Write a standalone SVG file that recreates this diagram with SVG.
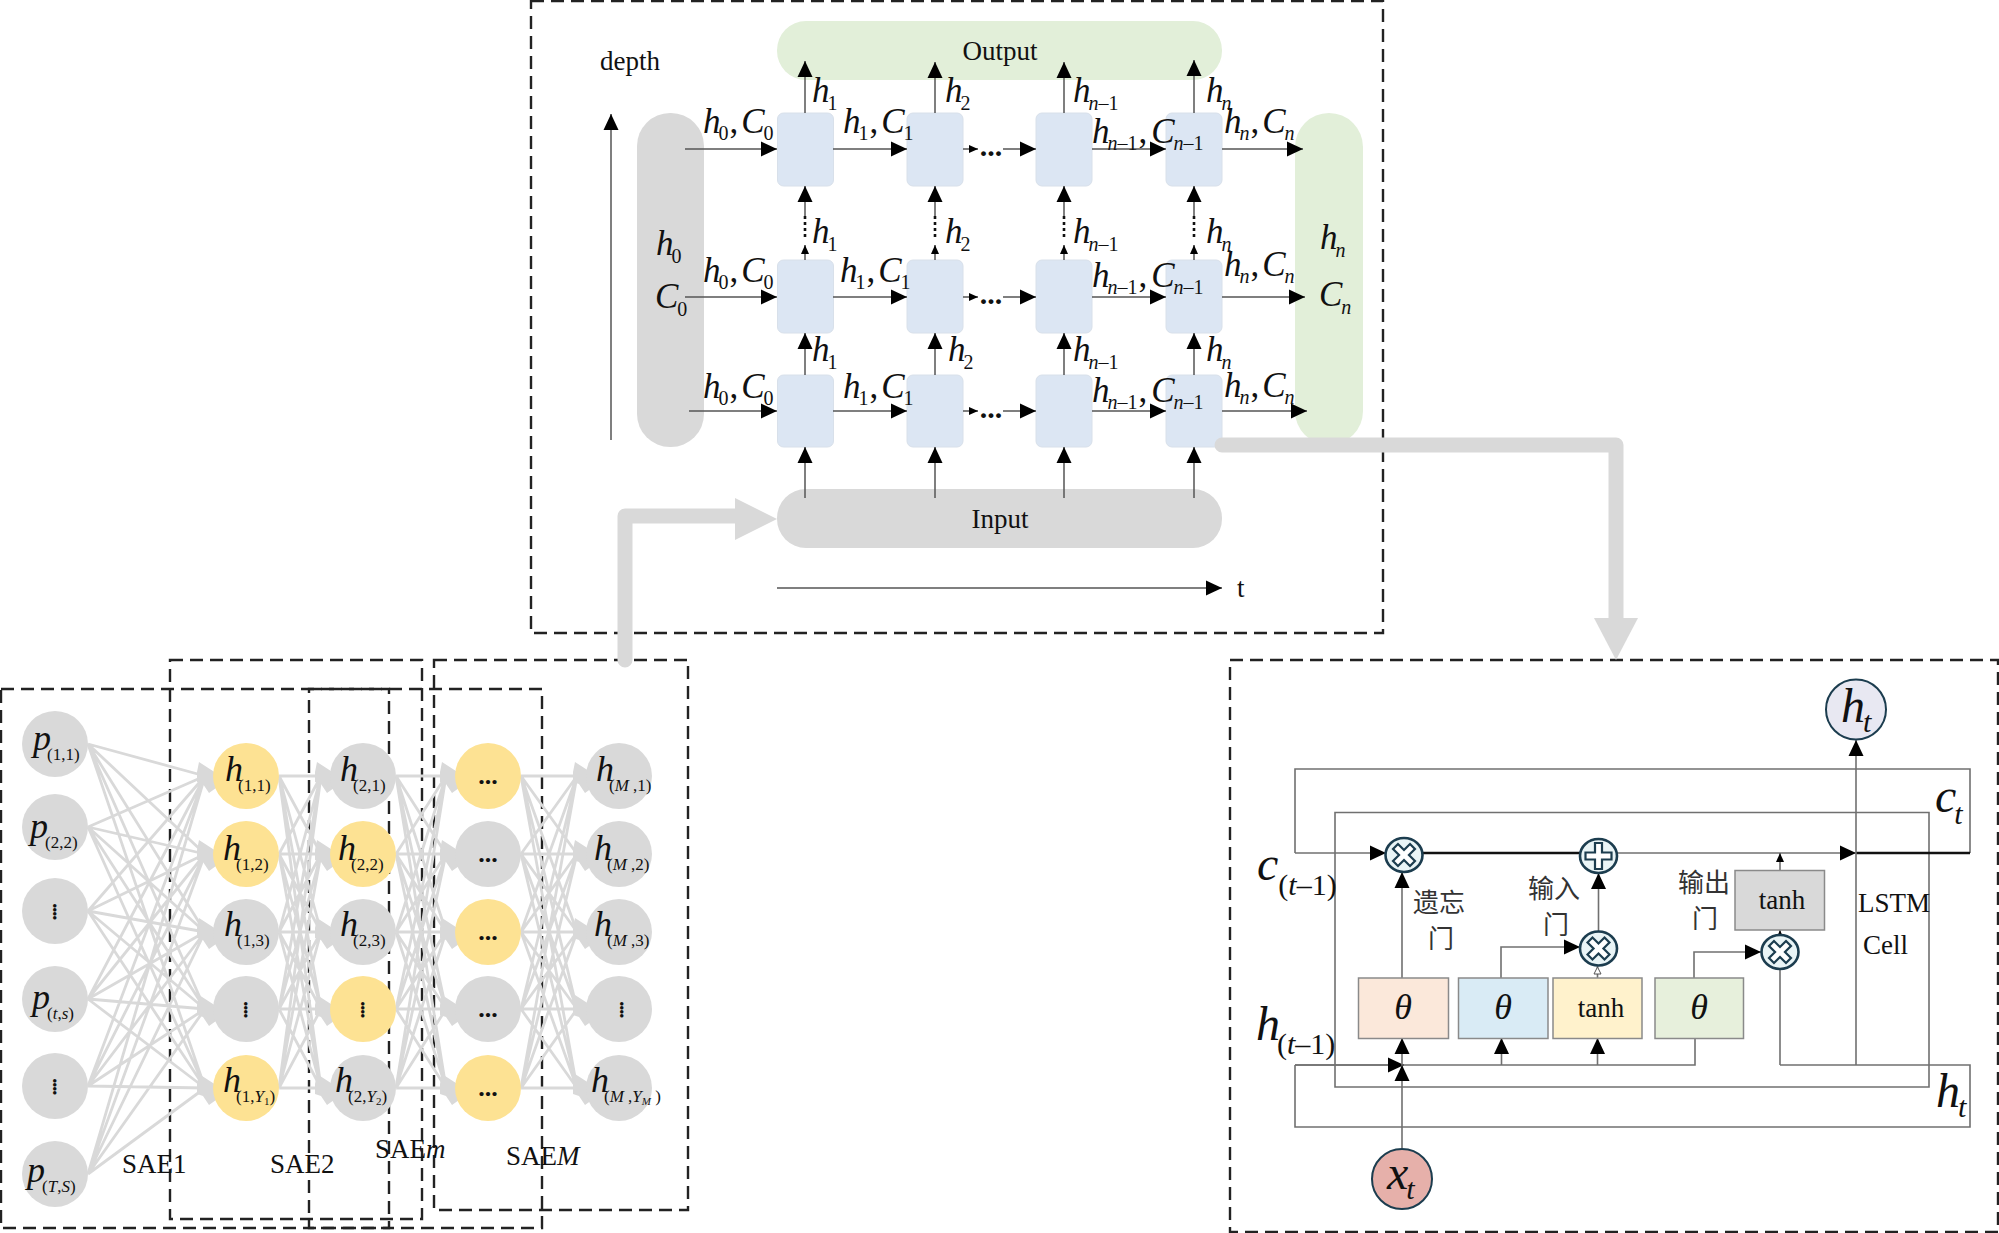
<svg xmlns="http://www.w3.org/2000/svg" width="1999" height="1233" viewBox="0 0 1999 1233">
<style>
text{font-family:"Liberation Serif","Times New Roman",serif;fill:#111}
.p{font-size:27px}
.c{text-anchor:middle}
.l{font-size:35px;font-style:italic}
.b{font-size:20px;font-style:normal}
.bi{font-size:20px;font-style:italic}
.r{font-style:normal}
.n{font-size:36px;font-style:italic}
.s{font-size:17px;font-style:normal}
.si{font-size:17px;font-style:italic}
.t{font-size:11px}
.g{font-size:48px;font-style:italic}
.gs{font-size:30px;font-style:normal}
.gi{font-size:30px;font-style:italic}
.cjk{font-family:"Liberation Serif","Noto Sans CJK SC",serif;font-size:26px;fill:#333}
.dash{fill:none;stroke:#222;stroke-width:2.4;stroke-dasharray:13 7}
.pill-g{fill:#d9d9d9}
.pill-v{fill:#e2efd9}
.cell{fill:#dce6f3;stroke:#d8e0ea;stroke-width:1}
.w{fill:none;stroke:#555;stroke-width:1.5}
.a{marker-end:url(#big)}
.as{marker-end:url(#small)}
.dot{fill:none;stroke:#111;stroke-width:2.6;stroke-dasharray:3 3}
.e{fill:none;stroke:#d9d9d9;stroke-width:2.8;vector-effect:non-scaling-stroke}
.fan{fill:#d9d9d9}
.gn{fill:#d9d9d9}
.yn{fill:#fde293}
.fat{fill:none;stroke:#d9d9d9;stroke-width:15;stroke-linecap:round;stroke-linejoin:round}
.box{stroke:#8a8a8a;stroke-width:1.5}
.lw{fill:none;stroke:#707070;stroke-width:1.6}
.thick{fill:none;stroke:#111;stroke-width:2.6}
.op{fill:#e9f4f6;stroke:#1c3d4f;stroke-width:2.6}
.gl{fill:#fff;stroke:#1c3d4f;stroke-width:2.2}
.dots{font-size:30px;font-weight:bold;text-anchor:middle}
.vd{font-size:22px;font-weight:bold;text-anchor:middle;letter-spacing:-1.5px}
.hd{font-size:26px;font-weight:bold;text-anchor:middle}
</style>
<defs>
<marker id="big" markerUnits="userSpaceOnUse" markerWidth="17" markerHeight="18" refX="16" refY="9" orient="auto"><path d="M0 1.5L16 9L0 16.5z" fill="#000"/></marker>
<marker id="small" markerUnits="userSpaceOnUse" markerWidth="10" markerHeight="10" refX="9" refY="5" orient="auto"><path d="M0 1L9 5L0 9z" fill="#000"/></marker>
<marker id="hollow" markerUnits="userSpaceOnUse" markerWidth="10" markerHeight="10" refX="9" refY="5" orient="auto"><path d="M1 1.5L8 5L1 8.5z" fill="#fff" stroke="#555"/></marker>
<path id="fanshape" d="M3 -3L-14 -14L-16 -4L-16 6L-10 8L-4 17L3 12z"/>
<path id="mesh" class="e" d="M0 776L100 776M0 776L100 854M0 776L100 932M0 776L100 1009M0 776L100 1088M0 854L100 776M0 854L100 854M0 854L100 932M0 854L100 1009M0 854L100 1088M0 932L100 776M0 932L100 854M0 932L100 932M0 932L100 1009M0 932L100 1088M0 1009L100 776M0 1009L100 854M0 1009L100 932M0 1009L100 1009M0 1009L100 1088M0 1088L100 776M0 1088L100 854M0 1088L100 932M0 1088L100 1009M0 1088L100 1088"/>
<g id="xop"><ellipse class="op" rx="18.5" ry="17"/><path class="gl" transform="rotate(45)" d="M-3.500 -12H3.500V-3.500H12V3.500H3.500V12H-3.500V3.500H-12V-3.500H-3.500z"/></g>
<g id="pop"><ellipse class="op" rx="18.5" ry="17"/><path class="gl" d="M-3.500 -13H3.500V-3.500H13V3.500H3.500V13H-3.500V3.500H-13V-3.500H-3.500z"/></g>
</defs>

<g id="frames">
<rect class="dash" x="531" y="1" width="852" height="632"/>
<rect class="dash" x="1" y="689" width="388" height="539"/>
<rect class="dash" x="170" y="660" width="252" height="559"/>
<rect class="dash" x="309" y="689" width="233" height="539"/>
<rect class="dash" x="434" y="660" width="254" height="550"/>
<rect class="dash" x="1230" y="660" width="768" height="572"/>
</g>

<g id="lstm-grid-nodes">
<g id="output"><rect class="pill-v" x="777" y="21" width="445" height="59" rx="29"/><text class="p c" x="1000" y="60">Output</text></g>
<g id="input"><rect class="pill-g" x="777" y="489" width="445" height="59" rx="29"/><text class="p c" x="1000" y="528">Input</text></g>
<g id="init"><rect class="pill-g" x="637" y="113" width="67" height="334" rx="33"/></g>
<g id="final"><rect class="pill-v" x="1295" y="113" width="68" height="332" rx="34"/></g>
<g id="cells">
<rect class="cell" x="777.500" y="113" width="56" height="73" rx="6"/><rect class="cell" x="907" y="113" width="56" height="73" rx="6"/><rect class="cell" x="1036" y="113" width="56" height="73" rx="6"/><rect class="cell" x="1166" y="113" width="56" height="73" rx="6"/>
<rect class="cell" x="777.500" y="260" width="56" height="73" rx="6"/><rect class="cell" x="907" y="260" width="56" height="73" rx="6"/><rect class="cell" x="1036" y="260" width="56" height="73" rx="6"/><rect class="cell" x="1166" y="260" width="56" height="73" rx="6"/>
<rect class="cell" x="777.500" y="375" width="56" height="72" rx="6"/><rect class="cell" x="907" y="375" width="56" height="72" rx="6"/><rect class="cell" x="1036" y="375" width="56" height="72" rx="6"/><rect class="cell" x="1166" y="375" width="56" height="72" rx="6"/>
</g>
</g>

<g id="connectors">
<path class="w a" d="M611 440V114"/>
<path class="w a" d="M777 588H1222"/>
<path class="w a" d="M685 149H777"/><path class="w a" d="M833 149H907"/><path class="w as" d="M963 149H978"/><path class="w a" d="M1003 149H1036"/><path class="w a" d="M1092 149H1166"/><path class="w a" d="M1222 149H1303"/>
<path class="w a" d="M685 297H777"/><path class="w a" d="M833 297H907"/><path class="w as" d="M963 297H978"/><path class="w a" d="M1003 297H1036"/><path class="w a" d="M1092 297H1166"/><path class="w a" d="M1222 297H1305"/>
<path class="w a" d="M689 411H777"/><path class="w a" d="M833 411H907"/><path class="w as" d="M963 411H978"/><path class="w a" d="M1003 411H1036"/><path class="w a" d="M1092 411H1166"/><path class="w a" d="M1222 411H1307"/>
<path class="w a" d="M805 113V61"/><path class="w a" d="M935 113V62"/><path class="w a" d="M1064 113V62"/><path class="w a" d="M1194 113V60"/>
<path class="w as" d="M805 260V245"/><path class="w as" d="M935 260V245"/><path class="w as" d="M1064 260V245"/><path class="w as" d="M1194 260V245"/>
<path class="dot" d="M805 237V216"/><path class="dot" d="M935 237V216"/><path class="dot" d="M1064 237V216"/><path class="dot" d="M1194 237V216"/>
<path class="w a" d="M805 216V186"/><path class="w a" d="M935 216V186"/><path class="w a" d="M1064 216V186"/><path class="w a" d="M1194 216V186"/>
<path class="w a" d="M805 375V333"/><path class="w a" d="M935 375V333"/><path class="w a" d="M1064 375V333"/><path class="w a" d="M1194 375V333"/>
<path class="w a" d="M805 498V447"/><path class="w a" d="M935 498V447"/><path class="w a" d="M1064 498V447"/><path class="w a" d="M1194 498V447"/>

<path class="e" d="M88 744L205 776M88 744L205 854M88 744L205 932M88 744L205 1009M88 744L205 1088M88 827L205 776M88 827L205 854M88 827L205 932M88 827L205 1009M88 827L205 1088M88 911L205 776M88 911L205 854M88 911L205 932M88 911L205 1009M88 911L205 1088M88 999L205 776M88 999L205 854M88 999L205 932M88 999L205 1009M88 999L205 1088M88 1086L205 776M88 1086L205 854M88 1086L205 932M88 1086L205 1009M88 1086L205 1088M88 1174L205 776M88 1174L205 854M88 1174L205 932M88 1174L205 1009M88 1174L205 1088"/>
<use href="#mesh" transform="translate(279 0) scale(.42 1)"/>
<use href="#mesh" transform="translate(396 0) scale(.50 1)"/>
<use href="#mesh" transform="translate(521 0) scale(.56 1)"/>
<g class="fan">
<use href="#fanshape" x="213" y="776"/><use href="#fanshape" x="213" y="854"/><use href="#fanshape" x="213" y="932"/><use href="#fanshape" x="213" y="1009"/><use href="#fanshape" x="213" y="1088"/>
<use href="#fanshape" x="331" y="776"/><use href="#fanshape" x="331" y="854"/><use href="#fanshape" x="331" y="932"/><use href="#fanshape" x="331" y="1009"/><use href="#fanshape" x="331" y="1088"/>
<use href="#fanshape" x="456" y="776"/><use href="#fanshape" x="456" y="854"/><use href="#fanshape" x="456" y="932"/><use href="#fanshape" x="456" y="1009"/><use href="#fanshape" x="456" y="1088"/>
<use href="#fanshape" x="589" y="776"/><use href="#fanshape" x="589" y="854"/><use href="#fanshape" x="589" y="932"/><use href="#fanshape" x="589" y="1009"/><use href="#fanshape" x="589" y="1088"/>
</g>

<path class="lw" d="M1295 853V769H1970V853"/>
<path class="lw" d="M1335 854V812.5H1929V1087H1335z"/>
<path class="lw a" d="M1295 853H1386"/>
<path class="thick" d="M1423 853H1582"/>
<path class="lw a" d="M1615 853H1856"/>
<path class="thick" d="M1856 853H1970"/>
<path class="lw" d="M1295 1065H1695V1038"/>
<path class="lw a" d="M1295 1065H1404"/>
<path class="lw" d="M1295 1065V1127H1970V1065H1780"/>
<path class="lw a" d="M1402 1148V1065"/>
<path class="lw a" d="M1402 1065V1038"/>
<path class="lw a" d="M1501.500 1065V1038"/>
<path class="lw a" d="M1597.500 1065V1038"/>
<path class="lw a" d="M1402 978V872"/>
<path class="lw a" d="M1501 978V947H1580"/>
<path class="lw" style="marker-end:url(#hollow)" d="M1597.500 978V966"/>
<path class="lw a" d="M1598.500 931V873"/>
<path class="lw a" d="M1694 978V952H1761"/>
<path class="lw" d="M1780 970V1065"/>
<path class="lw" style="marker-end:url(#small)" d="M1780 936V930"/>
<path class="lw" style="marker-end:url(#small)" d="M1780 870V853"/>
<path class="lw a" d="M1856 1065V740"/>
</g>

<g id="gray-flows">
<path class="fat" d="M625 660V516H735"/><path d="M735 498L777 519L735 540z" fill="#d9d9d9"/>
<path class="fat" d="M1222 445H1616V620"/><path d="M1594 618H1638L1616 660z" fill="#d9d9d9"/>
</g>

<g id="grid-labels">
<text class="l" x="812" y="102">h<tspan class="b" dy="8" dx="-2">1</tspan></text><text class="l" x="945" y="102">h<tspan class="b" dy="8" dx="-2">2</tspan></text><text class="l" x="1073" y="102">h<tspan class="bi" dy="8" dx="-2">n</tspan><tspan class="b">–1</tspan></text><text class="l" x="1206" y="102">h<tspan class="bi" dy="8" dx="-2">n</tspan></text>
<text class="l" x="812" y="243">h<tspan class="b" dy="8" dx="-2">1</tspan></text><text class="l" x="945" y="243">h<tspan class="b" dy="8" dx="-2">2</tspan></text><text class="l" x="1073" y="243">h<tspan class="bi" dy="8" dx="-2">n</tspan><tspan class="b">–1</tspan></text><text class="l" x="1206" y="243">h<tspan class="bi" dy="8" dx="-2">n</tspan></text>
<text class="l" x="812" y="361">h<tspan class="b" dy="8" dx="-2">1</tspan></text><text class="l" x="948" y="361">h<tspan class="b" dy="8" dx="-2">2</tspan></text><text class="l" x="1073" y="361">h<tspan class="bi" dy="8" dx="-2">n</tspan><tspan class="b">–1</tspan></text><text class="l" x="1206" y="361">h<tspan class="bi" dy="8" dx="-2">n</tspan></text>

<text class="l" x="703" y="133">h<tspan class="b" dy="7" dx="-2">0</tspan><tspan class="r" dy="-7" dx="1">,</tspan><tspan dx="3">C</tspan><tspan class="b" dy="7" dx="-1">0</tspan></text>
<text class="l" x="843" y="133">h<tspan class="b" dy="7" dx="-2">1</tspan><tspan class="r" dy="-7" dx="1">,</tspan><tspan dx="3">C</tspan><tspan class="b" dy="7" dx="-1">1</tspan></text>
<text class="l" x="1092" y="143">h<tspan class="bi" dy="7" dx="-2">n</tspan><tspan class="b">–1</tspan><tspan class="r" dy="-7" dx="1">,</tspan><tspan dx="4">C</tspan><tspan class="bi" dy="7" dx="-1">n</tspan><tspan class="b">–1</tspan></text>
<text class="l" x="1224" y="133">h<tspan class="bi" dy="7" dx="-2">n</tspan><tspan class="r" dy="-7" dx="1">,</tspan><tspan dx="3">C</tspan><tspan class="bi" dy="7" dx="-1">n</tspan></text>
<text class="l" x="703" y="282">h<tspan class="b" dy="7" dx="-2">0</tspan><tspan class="r" dy="-7" dx="1">,</tspan><tspan dx="3">C</tspan><tspan class="b" dy="7" dx="-1">0</tspan></text>
<text class="l" x="840" y="282">h<tspan class="b" dy="7" dx="-2">1</tspan><tspan class="r" dy="-7" dx="1">,</tspan><tspan dx="3">C</tspan><tspan class="b" dy="7" dx="-1">1</tspan></text>
<text class="l" x="1092" y="287">h<tspan class="bi" dy="7" dx="-2">n</tspan><tspan class="b">–1</tspan><tspan class="r" dy="-7" dx="1">,</tspan><tspan dx="4">C</tspan><tspan class="bi" dy="7" dx="-1">n</tspan><tspan class="b">–1</tspan></text>
<text class="l" x="1224" y="276">h<tspan class="bi" dy="7" dx="-2">n</tspan><tspan class="r" dy="-7" dx="1">,</tspan><tspan dx="3">C</tspan><tspan class="bi" dy="7" dx="-1">n</tspan></text>
<text class="l" x="703" y="398">h<tspan class="b" dy="7" dx="-2">0</tspan><tspan class="r" dy="-7" dx="1">,</tspan><tspan dx="3">C</tspan><tspan class="b" dy="7" dx="-1">0</tspan></text>
<text class="l" x="843" y="398">h<tspan class="b" dy="7" dx="-2">1</tspan><tspan class="r" dy="-7" dx="1">,</tspan><tspan dx="3">C</tspan><tspan class="b" dy="7" dx="-1">1</tspan></text>
<text class="l" x="1092" y="402">h<tspan class="bi" dy="7" dx="-2">n</tspan><tspan class="b">–1</tspan><tspan class="r" dy="-7" dx="1">,</tspan><tspan dx="4">C</tspan><tspan class="bi" dy="7" dx="-1">n</tspan><tspan class="b">–1</tspan></text>
<text class="l" x="1224" y="397">h<tspan class="bi" dy="7" dx="-2">n</tspan><tspan class="r" dy="-7" dx="1">,</tspan><tspan dx="3">C</tspan><tspan class="bi" dy="7" dx="-1">n</tspan></text>

<text class="l" x="656" y="255">h<tspan class="b" dy="8" dx="-2">0</tspan></text><text class="l" x="655" y="308">C<tspan class="b" dy="8" dx="-1">0</tspan></text>
<text class="l" x="1320" y="249">h<tspan class="bi" dy="8" dx="-2">n</tspan></text><text class="l" x="1319" y="306">C<tspan class="bi" dy="8" dx="-1">n</tspan></text>
<text class="p" x="600" y="70">depth</text><text class="p" x="1237" y="597">t</text>
<text class="dots" x="991" y="156">...</text><text class="dots" x="991" y="304">...</text><text class="dots" x="991" y="418">...</text>
</g>

<g id="sae-nodes">
<g id="p11"><circle class="gn" cx="55" cy="744" r="33"/><text class="n" x="33" y="750">p<tspan class="s" dy="10" dx="-4">(1,1)</tspan></text></g>
<g id="p22"><circle class="gn" cx="55" cy="827" r="33"/><text class="n" x="30" y="838">p<tspan class="s" dy="10" dx="-3">(2,2)</tspan></text></g>
<g id="p3"><circle class="gn" cx="55" cy="911" r="33"/><text class="vd" transform="rotate(90 55 911)" x="55" y="913">....</text></g>
<g id="pts"><circle class="gn" cx="55" cy="999" r="33"/><text class="n" x="32" y="1009">p<tspan class="s" dy="10" dx="-3">(</tspan><tspan class="si">t</tspan><tspan class="s">,</tspan><tspan class="si">s</tspan><tspan class="s">)</tspan></text></g>
<g id="p5"><circle class="gn" cx="55" cy="1086" r="33"/><text class="vd" transform="rotate(90 55 1086)" x="55" y="1088">....</text></g>
<g id="pTS"><circle class="gn" cx="55" cy="1174" r="33"/><text class="n" x="27" y="1182">p<tspan class="s" dy="10" dx="-3">(</tspan><tspan class="si">T</tspan><tspan class="s">,</tspan><tspan class="si">S</tspan><tspan class="s">)</tspan></text></g>

<g id="h11"><circle class="yn" cx="246" cy="776" r="33"/><text class="n" x="225" y="781">h<tspan class="s" dy="10" dx="-5">(1,1)</tspan></text></g>
<g id="h12"><circle class="yn" cx="246" cy="854" r="33"/><text class="n" x="223" y="860">h<tspan class="s" dy="10" dx="-5">(1,2)</tspan></text></g>
<g id="h13"><circle class="gn" cx="246" cy="932" r="33"/><text class="n" x="224" y="936">h<tspan class="s" dy="10" dx="-5">(1,3)</tspan></text></g>
<g id="h14"><circle class="gn" cx="246" cy="1009" r="33"/><text class="vd" transform="rotate(90 246 1009)" x="246" y="1011">....</text></g>
<g id="h1Y"><circle class="yn" cx="246" cy="1088" r="33"/><text class="n" x="223" y="1092">h<tspan class="s" dy="10" dx="-5">(1,</tspan><tspan class="si">Y</tspan><tspan class="s t" dy="3">1</tspan><tspan class="s" dy="-3">)</tspan></text></g>

<g id="h21"><circle class="gn" cx="363" cy="776" r="33"/><text class="n" x="340" y="781">h<tspan class="s" dy="10" dx="-5">(2,1)</tspan></text></g>
<g id="h22"><circle class="yn" cx="363" cy="854" r="33"/><text class="n" x="338" y="860">h<tspan class="s" dy="10" dx="-5">(2,2)</tspan></text></g>
<g id="h23"><circle class="gn" cx="363" cy="932" r="33"/><text class="n" x="340" y="936">h<tspan class="s" dy="10" dx="-5">(2,3)</tspan></text></g>
<g id="h24"><circle class="yn" cx="363" cy="1009" r="33"/><text class="vd" transform="rotate(90 363 1009)" x="363" y="1011">....</text></g>
<g id="h2Y"><circle class="gn" cx="363" cy="1088" r="33"/><text class="n" x="335" y="1092">h<tspan class="s" dy="10" dx="-5">(2,</tspan><tspan class="si">Y</tspan><tspan class="s t" dy="3">2</tspan><tspan class="s" dy="-3">)</tspan></text></g>

<g id="m1"><circle class="yn" cx="488" cy="776" r="33"/><text class="hd" x="488" y="784">...</text></g>
<g id="m2"><circle class="gn" cx="488" cy="854" r="33"/><text class="hd" x="488" y="862">...</text></g>
<g id="m3"><circle class="yn" cx="488" cy="932" r="33"/><text class="hd" x="488" y="940">...</text></g>
<g id="m4"><circle class="gn" cx="488" cy="1009" r="33"/><text class="hd" x="488" y="1017">...</text></g>
<g id="m5"><circle class="yn" cx="488" cy="1088" r="33"/><text class="hd" x="488" y="1096">...</text></g>

<g id="hM1"><circle class="gn" cx="619" cy="776" r="33"/><text class="n" x="596" y="781">h<tspan class="s" dy="10" dx="-5">(</tspan><tspan class="si">M</tspan><tspan class="s"> ,1)</tspan></text></g>
<g id="hM2"><circle class="gn" cx="619" cy="854" r="33"/><text class="n" x="594" y="860">h<tspan class="s" dy="10" dx="-5">(</tspan><tspan class="si">M</tspan><tspan class="s"> ,2)</tspan></text></g>
<g id="hM3"><circle class="gn" cx="619" cy="932" r="33"/><text class="n" x="594" y="936">h<tspan class="s" dy="10" dx="-5">(</tspan><tspan class="si">M</tspan><tspan class="s"> ,3)</tspan></text></g>
<g id="hM4"><circle class="gn" cx="619" cy="1009" r="33"/><text class="vd" transform="rotate(90 622 1009)" x="622" y="1011">....</text></g>
<g id="hMY"><circle class="gn" cx="619" cy="1088" r="33"/><text class="n" x="591" y="1092">h<tspan class="s" dy="10" dx="-5">(</tspan><tspan class="si">M</tspan><tspan class="s"> ,</tspan><tspan class="si">Y</tspan><tspan class="si t" dy="3">M</tspan><tspan class="s" dy="-3"> )</tspan></text></g>
<text class="p" x="122" y="1173">SAE1</text>
<text class="p" x="270" y="1173">SAE2</text>
<text class="p" x="375" y="1158">SAE<tspan font-style="italic">m</tspan></text>
<text class="p" x="506" y="1165">SAE<tspan font-style="italic">M</tspan></text>
</g>

<g id="lstm-cell">
<g id="theta1"><rect class="box" x="1358.500" y="978" width="90" height="60.500" fill="#fbe8da"/><text class="n c" x="1403" y="1019">θ</text></g>
<g id="theta2"><rect class="box" x="1458.500" y="978" width="89.500" height="60.500" fill="#d9ebf5"/><text class="n c" x="1503" y="1019">θ</text></g>
<g id="tanh1"><rect class="box" x="1553" y="978" width="89" height="60.500" fill="#fff2cc"/><text class="p c" x="1601" y="1017">tanh</text></g>
<g id="theta3"><rect class="box" x="1655" y="978" width="88.500" height="60.500" fill="#e7f0dc"/><text class="n c" x="1699" y="1019">θ</text></g>
<g id="tanh2"><rect class="box" x="1735" y="870.500" width="89.500" height="59.500" fill="#d9d9d9"/><text class="p c" x="1782" y="909">tanh</text></g>
<use id="mul1" href="#xop" x="1404" y="855"/>
<use id="add1" href="#pop" x="1598.500" y="856"/>
<use id="mul2" href="#xop" x="1598.500" y="948.500"/>
<use id="mul3" href="#xop" x="1780" y="952"/>
<g id="ht"><circle cx="1856" cy="709.500" r="30" fill="#e8e8f2" stroke="#1c3d4f" stroke-width="2"/><text class="g" x="1841" y="722">h<tspan class="gi" dy="10" dx="-2">t</tspan></text></g>
<g id="xt"><circle cx="1402" cy="1179" r="30" fill="#e6b0aa" stroke="#1c3d4f" stroke-width="2"/><text class="g" x="1387" y="1189">x<tspan class="gi" dy="10" dx="-2">t</tspan></text></g>
<text class="g" x="1257" y="880">c<tspan class="gs" dy="15">(</tspan><tspan class="gi">t</tspan><tspan class="gs">–1)</tspan></text>
<text class="g" x="1256" y="1040">h<tspan class="gs" dy="14" dx="-3">(</tspan><tspan class="gi">t</tspan><tspan class="gs">–1)</tspan></text>
<text class="g" x="1935" y="812">c<tspan class="gi" dy="12" dx="-2">t</tspan></text>
<text class="g" x="1936" y="1107">h<tspan class="gi" dy="10" dx="-2">t</tspan></text>
<text class="cjk" x="1413" y="912">遗忘</text><text class="cjk" x="1428" y="948">门</text>
<text class="cjk" x="1528" y="898">输入</text><text class="cjk" x="1543" y="934">门</text>
<text class="cjk" x="1678" y="892">输出</text><text class="cjk" x="1692" y="928">门</text>
<text class="p" x="1858" y="912">LSTM</text><text class="p" x="1863" y="954">Cell</text>
</g>
</svg>
